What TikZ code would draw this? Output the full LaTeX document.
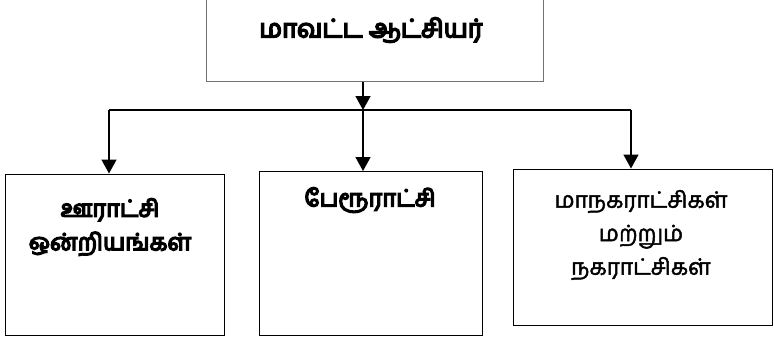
\documentclass[tikz,border=0pt]{standalone}
\usepackage{fontspec}
\newfontfamily\tamilb[Script=Tamil,FakeBold=6]{Hind Madurai}
\newfontfamily\tamilm[Script=Tamil,FakeBold=2]{Hind Madurai}
\usetikzlibrary{arrows.meta}
\begin{document}
\begin{tikzpicture}[x=1pt,y=-1pt,
  box/.style={draw=black,line width=1.4pt,fill=white,inner sep=0pt,anchor=north west},
  topbox/.style={draw=black!55,line width=1pt,inner sep=0pt,anchor=north west},
  lbl/.style={font=\tamilb\fontsize{23.5}{33.5}\selectfont,align=center,inner sep=0pt},
  lblr/.style={font=\tamilm\fontsize{22.5}{33.5}\selectfont,align=center,inner sep=0pt},
  conn/.style={line width=1.6pt,black},
  arr/.style={conn,-{Triangle[width=15pt,length=14pt]}}]
\useasboundingbox (0,0) rectangle (774,338);
\node[topbox,minimum width=337.5pt,minimum height=82pt] (top) at (205.5,-1.5) {};
\node[lbl,font=\tamilb\fontsize{25.5}{30}\selectfont] (ttop) at (371,30) {மாவட்ட ஆட்சியர்};
\node[box,minimum width=219pt,minimum height=161.5pt] (left) at (5,173.5) {};
\node[box,minimum width=223pt,minimum height=164pt] (mid) at (259,171) {};
\node[box,minimum width=259pt,minimum height=156.5pt] (right) at (513,168.5) {};
\node[lbl] (tleft) at (110,227) {ஊராட்சி\\ஒன்றியங்கள்};
\node[lbl] (tmid) at (370,200) {பேரூராட்சி};
\node[lblr] (tright) at (641,235) {மாநகராட்சிகள்\\மற்றும்\\நகராட்சிகள்};
\coordinate (hub) at (363,110);
\coordinate (l) at (109,110);
\coordinate (r) at (631,110);
\draw[arr] (top.south -| hub) -- (hub);
\draw[conn] (l) -- (r);
\draw[arr] (l) -- (l |- left.north);
\draw[arr] (hub) -- (hub |- mid.north);
\draw[arr] (r) -- (r |- right.north);
\end{tikzpicture}
\end{document}
